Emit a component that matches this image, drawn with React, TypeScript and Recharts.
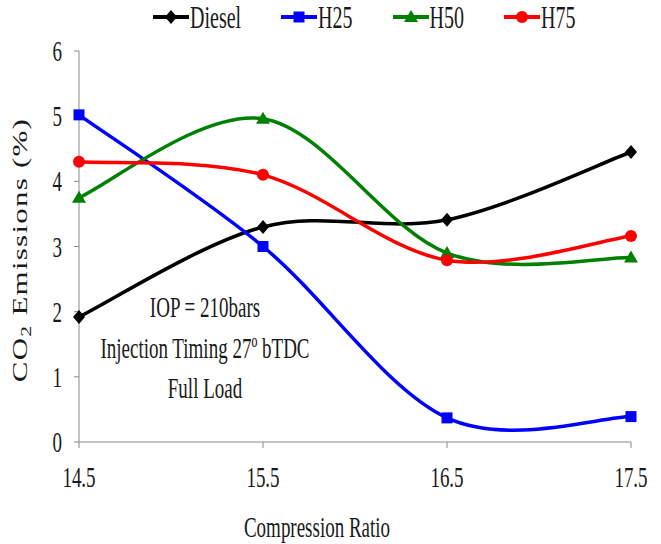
import { LineChart, Line, XAxis, YAxis, Legend } from 'recharts';

const CR = [14.5, 15.5, 16.5, 17.5];
const DIESEL = [1.92, 3.3, 3.41, 4.45];
const H25 = [5.02, 3.0, 0.37, 0.39];
const H50 = [3.75, 4.96, 2.9, 2.83];
const H75 = [4.3, 4.1, 2.79, 3.16];
const X_TICKS = [14.5, 15.5, 16.5, 17.5];
const Y_TICKS = [0, 1, 2, 3, 4, 5, 6];
const NOTES = ['IOP = 210bars', 'Injection Timing 27º bTDC', 'Full Load'];

const SERIES = [
  { key: 'diesel', name: 'Diesel', color: '#000000', shape: 'diamond' },
  { key: 'h25', name: 'H25', color: '#0000ff', shape: 'square' },
  { key: 'h50', name: 'H50', color: '#008000', shape: 'triangle' },
  { key: 'h75', name: 'H75', color: '#ff0000', shape: 'circle' },
];

const rows = CR.map((cr, i) => ({
  cr,
  diesel: DIESEL[i],
  h25: H25[i],
  h50: H50[i],
  h75: H75[i],
}));

const FONT = '"Liberation Serif", "Times New Roman", serif';
const TEXT = '#1a1a1a';
const AXIS = '#8a8a8a';
const STRETCH = 1.55;

// Excel-like smoothed line (Catmull-Rom as cubic beziers)
const excelCurve = (context: any) => {
  let pts: number[][] = [];
  return {
    areaStart() {},
    areaEnd() {},
    lineStart() { pts = []; },
    point(x: number, y: number) { pts.push([+x, +y]); },
    lineEnd() {
      if (!pts.length) return;
      context.moveTo(pts[0][0], pts[0][1]);
      for (let i = 0; i < pts.length - 1; i++) {
        const p0 = pts[i - 1] || pts[i];
        const p1 = pts[i];
        const p2 = pts[i + 1];
        const p3 = pts[i + 2] || p2;
        context.bezierCurveTo(
          p1[0] + (p2[0] - p0[0]) / 6, p1[1] + (p2[1] - p0[1]) / 6,
          p2[0] - (p3[0] - p1[0]) / 6, p2[1] - (p3[1] - p1[1]) / 6,
          p2[0], p2[1],
        );
      }
    },
  };
};

function Marker({ shape, cx, cy, color }: any) {
  if (cx == null || cy == null) return null;
  if (shape === 'diamond') {
    return <path d={`M${cx},${cy - 7}L${cx + 6},${cy}L${cx},${cy + 7}L${cx - 6},${cy}Z`} fill={color} />;
  }
  if (shape === 'square') {
    return <rect x={cx - 5.5} y={cy - 5.5} width={11} height={11} fill={color} />;
  }
  if (shape === 'triangle') {
    return <path d={`M${cx},${cy - 7}L${cx + 7},${cy + 5}L${cx - 7},${cy + 5}Z`} fill={color} />;
  }
  return <circle cx={cx} cy={cy} r={6} fill={color} />;
}

function XTick({ x, y, payload }: any) {
  return (
    <text transform={`translate(${x},${y + 37}) scale(1,${STRETCH})`} textAnchor="middle"
      fontFamily={FONT} fontSize={19} fill={TEXT}>
      {payload.value}
    </text>
  );
}

function YTick({ x, y, payload }: any) {
  return (
    <text transform={`translate(${x},${y + 10}) scale(1,${STRETCH})`} textAnchor="end"
      fontFamily={FONT} fontSize={19} fill={TEXT}>
      {payload.value}
    </text>
  );
}

function XTitle() {
  return (
    <text transform={`translate(317,537) scale(1,${STRETCH})`} textAnchor="middle"
      fontFamily={FONT} fontSize={19} fill={TEXT}>
      Compression Ratio
    </text>
  );
}

function YTitle() {
  return (
    <text transform={`translate(20,250) rotate(-90) scale(${STRETCH},1)`} textAnchor="middle" dy="0.35em"
      fontFamily={FONT} fontSize={20} fill={TEXT} letterSpacing={0.8}>
      <tspan>CO</tspan>
      <tspan fontSize={14} dy={4}>2</tspan>
      <tspan dy={-4}>{'  Emissions (%)'}</tspan>
    </text>
  );
}

function LegendContent() {
  return (
    <div style={{ display: 'flex', alignItems: 'center', gap: 40, paddingLeft: 153, height: 34 }}>
      {SERIES.map((s) => (
        <div key={s.key} style={{ display: 'flex', alignItems: 'center' }}>
          <svg width={36} height={20}>
            <line x1={0} y1={10} x2={36} y2={10} stroke={s.color} strokeWidth={4} />
            <Marker shape={s.shape} cx={18} cy={10} color={s.color} />
          </svg>
          <span style={{
            fontFamily: FONT, fontSize: 20, color: TEXT, display: 'inline-block',
            transform: `scaleY(${STRETCH})`, lineHeight: '20px', marginLeft: 1,
          }}>
            {s.name}
          </span>
        </div>
      ))}
    </div>
  );
}

export default function App() {
  return (
    <div style={{ position: 'relative', width: 661, height: 544, background: '#fff' }}>
      <style>{'body{margin:0}'}</style>
      <LineChart width={661} height={544} data={rows} margin={{ top: 51, right: 30, bottom: 0, left: 0 }}>
        <XAxis dataKey="cr" type="number" domain={[14.5, 17.5]} ticks={X_TICKS} height={102}
          stroke={AXIS} tickSize={6} tick={<XTick />} label={{ content: <XTitle /> }} />
        <YAxis type="number" domain={[0, 6]} ticks={Y_TICKS} width={79} stroke={AXIS}
          tickSize={5} tickMargin={12} tick={<YTick />} label={{ content: <YTitle /> }} />
        <Legend layout="horizontal" verticalAlign="middle" align="center"
          wrapperStyle={{ top: 0, left: 0, width: 661, height: 34 }} content={<LegendContent />} />
        {SERIES.map((s) => (
          <Line key={s.key} dataKey={s.key} name={s.name} type={excelCurve as any}
            stroke={s.color} strokeWidth={3.5} isAnimationActive={false}
            dot={(p: any) => <Marker key={`${s.key}-${p.index}`} shape={s.shape} cx={p.cx} cy={p.cy} color={s.color} />}
            activeDot={false} />
        ))}
      </LineChart>
      <div style={{
        position: 'absolute', left: 0, top: 288, width: 410, textAlign: 'center',
        fontFamily: FONT, fontSize: 19, lineHeight: `${40 / STRETCH}px`, color: TEXT,
        transform: `scaleY(${STRETCH})`, transformOrigin: 'top center', whiteSpace: 'nowrap',
      }}>
        {NOTES.map((n) => <div key={n}>{n}</div>)}
      </div>
    </div>
  );
}
